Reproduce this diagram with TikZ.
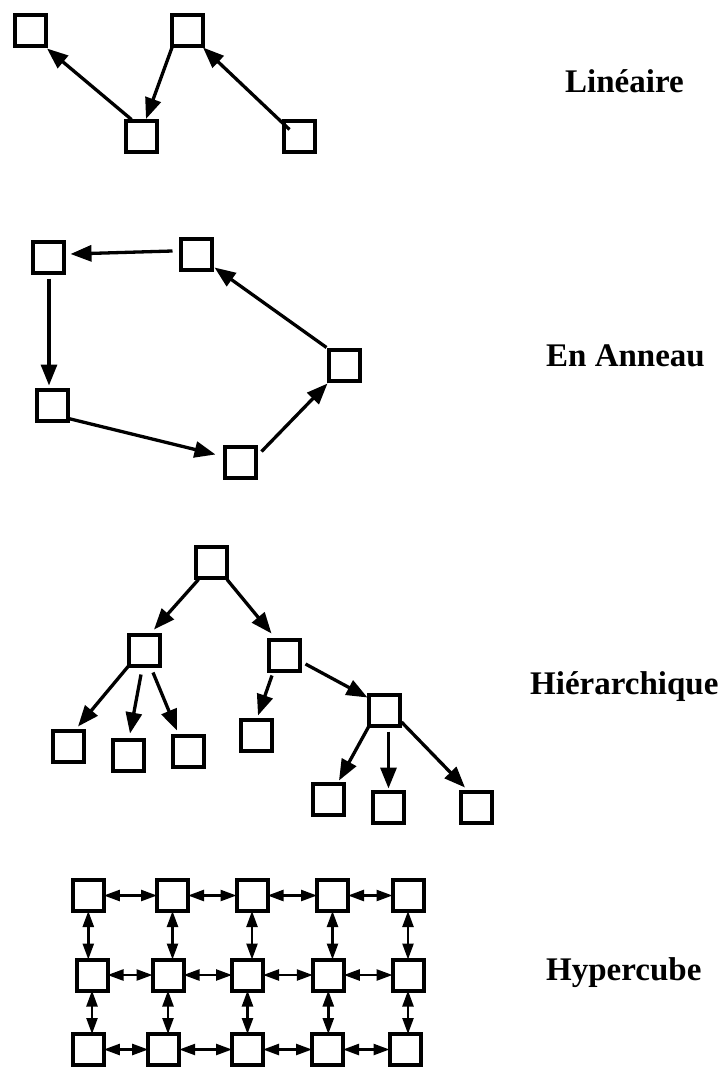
\documentclass[tikz,border=0pt]{standalone}
\usepackage{fontspec}
\setmainfont{Liberation Serif}
\usetikzlibrary{arrows.meta}
\begin{document}
\begin{tikzpicture}[x=1pt,y=-1pt,
  box/.style={draw,line width=4pt,minimum size=31pt,inner sep=0pt,outer sep=0pt},
  tarrow/.style={line width=3.3pt,-{Triangle[length=21pt,width=16pt]}},
  harrow/.style={line width=2.4pt,{Triangle[length=16pt,width=11pt]}-{Triangle[length=16pt,width=11pt]}},
  lab/.style={anchor=base west,inner sep=0pt,font=\fontsize{33}{40}\selectfont\bfseries}]
\fill[white] (0,0) rectangle (722,1068);
\useasboundingbox (0,0) rectangle (722,1068);

% ---------- Lineaire ----------
\node[box] (la) at (30.5,30) {};
\node[box] (lb) at (187.5,30) {};
\node[box] (lc) at (141,136.5) {};
\node[box] (ld) at (299,136.5) {};
\draw[tarrow] ([xshift=6pt,yshift=1.5pt]lc.north west) -- ([xshift=1pt,yshift=-3pt]la.south east);
\draw[tarrow] ([yshift=-2pt]lb.south west) -- ([xshift=5pt,yshift=2pt]lc.north);
\draw[tarrow] ([xshift=6pt,yshift=-8.5pt]ld.north west) -- ([yshift=-2pt]lb.south east);
\node[lab] (t1) at (565,92.7) {Linéaire};

% ---------- En Anneau ----------
\node[box] (r1) at (48,257) {};
\node[box] (r2) at (196,254) {};
\node[box] (r3) at (344.5,365.5) {};
\node[box] (r4) at (240.5,462) {};
\node[box] (r5) at (52,405.5) {};
\draw[tarrow] ([xshift=-8pt,yshift=3pt]r2.west) -- ([xshift=7pt,yshift=3pt]r1.east);
\draw[tarrow] ([xshift=1pt,yshift=-6pt]r1.south) -- ([xshift=-3pt,yshift=4.5pt]r5.north);
\draw[tarrow] ([xshift=1pt,yshift=2.5pt]r5.south east) -- ([xshift=-9.5pt,yshift=-8pt]r4.north west);
\draw[tarrow] ([xshift=5.5pt,yshift=-5pt]r4.north east) -- ([xshift=-1.5pt,yshift=-2.5pt]r3.south west);
\draw[tarrow] ([xshift=-2.5pt,yshift=2.5pt]r3.north west) -- ([xshift=3pt,yshift=2pt]r2.south east);
\node[lab] (t2) at (546,366) {En Anneau};

% ---------- Hierarchique ----------
\node[box] (h0) at (211.5,562) {};
\node[box] (h1) at (144,650.5) {};
\node[box] (h2) at (284.5,655) {};
\node[box] (h11) at (68,746.5) {};
\node[box] (h12) at (128,755) {};
\node[box] (h13) at (188,751) {};
\node[box] (h21) at (256,735) {};
\node[box] (h22) at (384.5,710.5) {};
\node[box] (h221) at (328.5,799.5) {};
\node[box] (h222) at (388.5,807) {};
\node[box] (h223) at (476,807) {};
\draw[tarrow] ([xshift=2.5pt,yshift=-2pt]h0.south west) -- ([xshift=10pt,yshift=5.5pt]h1.north);
\draw[tarrow] ([yshift=-2pt]h0.south east) -- ([xshift=2.5pt,yshift=6pt]h2.north west);
\draw[tarrow] (h1.south west) -- ([xshift=10pt,yshift=4.5pt]h11.north);
\draw[tarrow] ([xshift=-3pt,yshift=-8.5pt]h1.south) -- ([xshift=2pt,yshift=6pt]h12.north);
\draw[tarrow] ([xshift=9pt,yshift=-6.5pt]h1.south) -- ([xshift=-11pt,yshift=5pt]h13.north);
\draw[tarrow] ([xshift=-12.5pt,yshift=-5pt]h2.south) -- ([xshift=2pt,yshift=4pt]h21.north);
\draw[tarrow] ([xshift=5.5pt,yshift=-9pt]h2.east) -- ([xshift=-1.5pt,yshift=-2.5pt]h22.north west);
\draw[tarrow] (h22.south west) -- ([xshift=10.5pt,yshift=3.5pt]h221.north);
\draw[tarrow] ([xshift=4pt,yshift=-5.5pt]h22.south) -- ([yshift=3pt]h222.north);
\draw[tarrow] ([xshift=1.5pt,yshift=-11.5pt]h22.east) -- ([xshift=-11pt,yshift=4pt]h223.north);
\node[lab] (t3) at (530,694) {Hiérarchique};

% ---------- Hypercube ----------
\node[box] (q11) at (88.3,895.5) {};
\node[box] (q12) at (172.5,895.5) {};
\node[box] (q13) at (252,895.5) {};
\node[box] (q14) at (332.5,895.5) {};
\node[box] (q15) at (408,895.5) {};
\node[box] (q21) at (92,975) {};
\node[box] (q22) at (168,975) {};
\node[box] (q23) at (247.5,975) {};
\node[box] (q24) at (328.3,975) {};
\node[box] (q25) at (408,975) {};
\node[box] (q31) at (88.3,1049.5) {};
\node[box] (q32) at (163.7,1049.5) {};
\node[box] (q33) at (247.5,1049.5) {};
\node[box] (q34) at (327.5,1049.5) {};
\node[box] (q35) at (405,1049.5) {};
\foreach \r in {1,2,3}{
  \foreach \c/\n in {1/2,2/3,3/4,4/5}{
    \draw[harrow] (q\r\c.east) -- (q\r\n.west);
  }
}
\foreach \r/\s in {1/2,2/3}{
  \foreach \c in {1,...,5}{
    \draw[harrow] (q\r\c.south) -- (q\r\c.south |- q\s\c.north);
  }
}
\node[lab] (t4) at (546,980.7) {Hypercube};
\end{tikzpicture}
\end{document}
